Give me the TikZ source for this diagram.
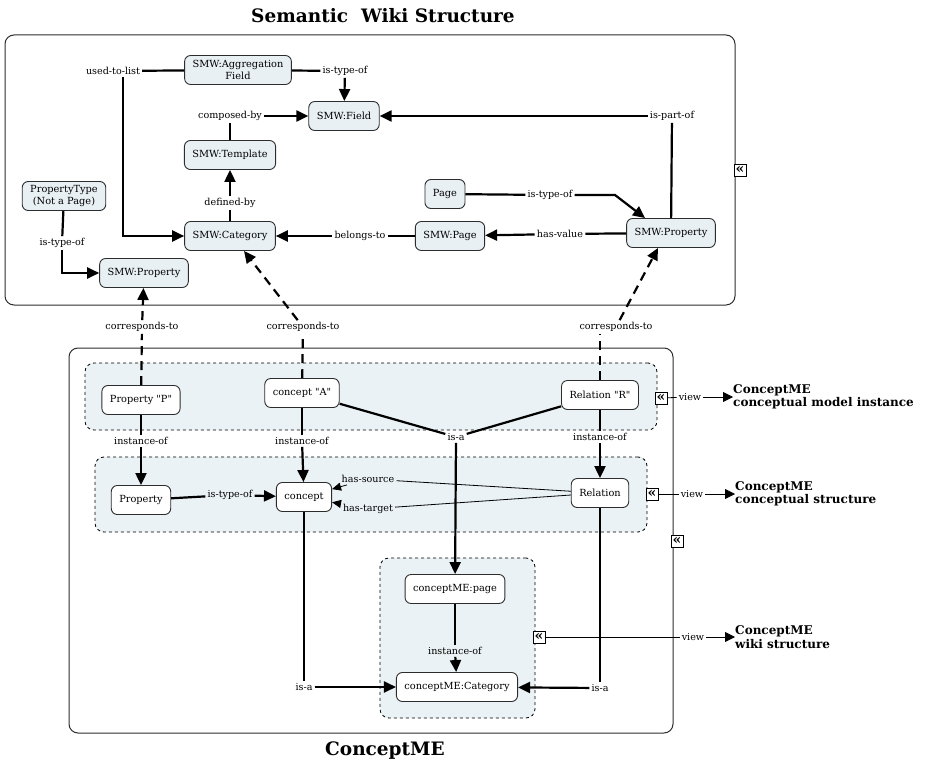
\documentclass[tikz,border=0pt]{standalone}
\usepackage{fontspec}
\setmainfont{DejaVu Serif}
\usetikzlibrary{arrows.meta}
\definecolor{wiki4}{RGB}{232,240,244}
\definecolor{group4}{RGB}{234,242,245}
\definecolor{line4}{RGB}{45,45,45}

\begin{document}
\begin{tikzpicture}[x=1pt, y=-1pt,
				conceptnode/.style=	{rounded corners=6pt, draw=line4, line width=0.9pt, align=center, inner xsep=8pt, minimum height=29pt, font=\fontsize{9.8}{11.5}\selectfont},
				wikinode/.style=	{conceptnode, fill=wiki4},
				menode/.style=		{conceptnode, fill=white},
				linklabel/.style=	{inner sep=2pt, font=\fontsize{9.6}{11}\selectfont},
				frame/.style=		{draw=line4, line width=1pt, rounded corners=9pt},
				viewgroup/.style=	{draw=black, dashed, line width=0.8pt, fill=group4, rounded corners=9pt},
				collapse/.style=	{draw=black, fill=white, line width=0.8pt, inner sep=0pt, minimum size=12pt, font=\fontsize{14}{14}\selectfont\bfseries},
				viewtext/.style=	{anchor=west, align=left, inner sep=0pt, font=\fontsize{12}{13.5}\selectfont\bfseries},
				title/.style=		{font=\fontsize{18.5}{21}\selectfont\bfseries},
				signal/.style=		{line width=2.2pt, draw=black, arrows={-Triangle[length=12pt, width=11pt]}},
				plain/.style=		{line width=2.2pt, draw=black},
				thinsignal/.style=	{line width=0.8pt, draw=black, arrows={-Triangle[length=9pt, width=8pt]}},
				thinline/.style=	{line width=0.8pt, draw=black},
				corr/.style=		{line width=2.2pt, draw=black, dash pattern=on 9pt off 6pt},
				corrsignal/.style=	{corr, arrows={-Triangle[length=12pt, width=11pt]}}]
	\useasboundingbox (0,0) rectangle (927,765);

	% frames and view groups
	\node[frame, minimum width=730pt, minimum height=270pt] (smwframe) at (370,170) {};
	\node[frame, minimum width=604pt, minimum height=385pt] (cmeframe) at (371,540.5) {};
	\node[viewgroup, minimum width=572pt, minimum height=67pt] (grp1) at (371,396.5) {};
	\node[viewgroup, minimum width=552pt, minimum height=75pt] (grp2) at (371,494.5) {};
	\node[viewgroup, minimum width=155pt, minimum height=160pt] (grp3) at (457.5,638) {};

	\node[title] (smwtitle) at (383,16) {Semantic\ \ Wiki Structure};
	\node[title] (cmetitle) at (385,751) {ConceptME};

	% semantic wiki structure
	\node[wikinode] (aggr) at (238,70) {SMW:Aggregation\\Field};
	\node[wikinode] (field) at (344,116) {SMW:Field};
	\node[wikinode] (templ) at (230,155) {SMW:Template};
	\node[wikinode] (ptype) at (64,196) {PropertyType\\(Not a Page)};
	\node[wikinode] (cat) at (230,236) {SMW:Category};
	\node[wikinode] (prop1) at (144,273) {SMW:Property};
	\node[wikinode] (page) at (445,194) {Page};
	\node[wikinode] (wpage) at (450,236) {SMW:Page};
	\node[wikinode] (prop2) at (671,233) {SMW:Property};

	\node[linklabel] (usedlist) at (113,71) {used-to-list};
	\node[linklabel] (fieldtype) at (345,71) {is-type-of};
	\node[linklabel] (composed) at (230,116) {composed-by};
	\node[linklabel] (definedby) at (230,203) {defined-by};
	\node[linklabel] (ptypeof) at (62,243) {is-type-of};
	\node[linklabel] (belongs) at (360,236) {belongs-to};
	\node[linklabel] (hasvalue) at (560,234) {has-value};
	\node[linklabel] (pagetype) at (550,195) {is-type-of};
	\node[linklabel] (partof) at (672,116) {is-part-of};
	\coordinate (pagebend) at (615,195);

	\draw[plain] (aggr) -- (usedlist);
	\draw[signal] ([xshift=10pt]usedlist.south) |- (cat.west);
	\draw[plain] (aggr) -- (fieldtype);
	\draw[signal] (fieldtype) -- (field);
	\draw[plain] (templ) -- (composed);
	\draw[signal] (composed) -- (field);
	\draw[plain] (cat) -- (definedby);
	\draw[signal] (definedby) -- (templ);
	\draw[plain] (ptype) -- (ptypeof);
	\draw[signal] (ptypeof.south) |- (prop1.west);
	\draw[plain] (wpage) -- (belongs);
	\draw[signal] (belongs) -- (cat);
	\draw[plain] (prop2) -- (hasvalue);
	\draw[signal] (hasvalue) -- (wpage);
	\draw[plain] (page) -- (pagetype);
	\draw[signal] (pagetype.east) -- (pagebend) -- ([xshift=-26pt]prop2.north);
	\draw[plain] (prop2) -- (partof);
	\draw[signal] (partof) -- (field);

	% conceptME
	\node[menode] (propP) at (141,400) {Property \textquotedbl P\textquotedbl};
	\node[menode] (conceptA) at (302,393) {concept \textquotedbl A\textquotedbl};
	\node[menode] (relR) at (600,395) {Relation \textquotedbl R\textquotedbl};
	\node[menode] (prop) at (141,500) {Property};
	\node[menode] (concept) at (304,497) {concept};
	\node[menode] (rel) at (600,493) {Relation};
	\node[menode] (mepage) at (455,589) {conceptME:page};
	\node[menode] (mecat) at (457,687) {conceptME:Category};

	\node[linklabel] (corr1) at (142,327) {corresponds-to};
	\node[linklabel] (corr2) at (303,327) {corresponds-to};
	\node[linklabel] (corr3) at (616,327) {corresponds-to};
	\node[linklabel] (inst1) at (141,441) {instance-of};
	\node[linklabel] (inst2) at (302,441) {instance-of};
	\node[linklabel] (inst3) at (600,437) {instance-of};
	\node[linklabel] (isa1) at (456,437) {is-a};
	\node[linklabel] (proptype) at (230,495) {is-type-of};
	\node[linklabel] (hassrc) at (368,479) {has-source};
	\node[linklabel] (hastgt) at (368,509) {has-target};
	\node[linklabel] (inst4) at (455,651) {instance-of};
	\node[linklabel] (isa2) at (304,687) {is-a};
	\node[linklabel] (isa3) at (600,688) {is-a};

	\draw[corr] (propP) -- (corr1);
	\draw[corrsignal] (corr1) -- (prop1);
	\draw[corr] (conceptA) -- (corr2);
	\draw[corrsignal] (corr2) -- ([xshift=14pt]cat.south);
	\draw[corr] (relR.north) -- (relR.north |- corr3.south);
	\draw[corrsignal] (corr3) -- ([xshift=-13pt]prop2.south);

	\draw[plain] (propP) -- (inst1);
	\draw[signal] (inst1) -- (prop);
	\draw[plain] (conceptA) -- (inst2);
	\draw[signal] (inst2) -- (concept);
	\draw[plain] (relR) -- (inst3);
	\draw[signal] (inst3) -- (rel);
	\draw[plain] (conceptA) -- (isa1);
	\draw[plain] (relR) -- (isa1);
	\draw[signal] (isa1) -- (mepage);
	\draw[plain] (prop) -- (proptype);
	\draw[signal] (proptype) -- (concept);
	\draw[thinline] (rel) -- (hassrc);
	\draw[thinsignal] (hassrc) -- (concept);
	\draw[thinline] (rel) -- (hastgt);
	\draw[thinsignal] (hastgt) -- (concept);
	\draw[plain] (mepage) -- (inst4);
	\draw[signal] (inst4) -- (mecat);
	\draw[plain] (concept) -- (isa2);
	\draw[signal] (isa2) -- (mecat);
	\draw[plain] (rel) -- (isa3);
	\draw[signal] (isa3) -- (mecat);

	% collapsed views
	\node[collapse] (smwfold) at (740,170) {«};
	\node[collapse] (cmefold) at (677,541) {«};
	\node[collapse] (fold1) at (661,398) {«};
	\node[collapse] (fold2) at (652,494) {«};
	\node[collapse] (fold3) at (539,637) {«};

	\node[linklabel] (view1) at (690,397) {view};
	\node[linklabel] (view2) at (692,494) {view};
	\node[linklabel] (view3) at (693,637) {view};
	\node[viewtext] (vtext1) at (733,397) {ConceptME\\conceptual model instance};
	\node[viewtext] (vtext2) at (735,494) {ConceptME\\conceptual structure};
	\node[viewtext] (vtext3) at (735,637) {ConceptME\\wiki structure};

	\foreach \v in {1,2,3} {
		\draw[thinline] (fold\v) -- (view\v);
		\draw[thinline, arrows={-Triangle[length=10pt, width=10pt]}] (view\v) -- (vtext\v);
	}
\end{tikzpicture}
\end{document}
